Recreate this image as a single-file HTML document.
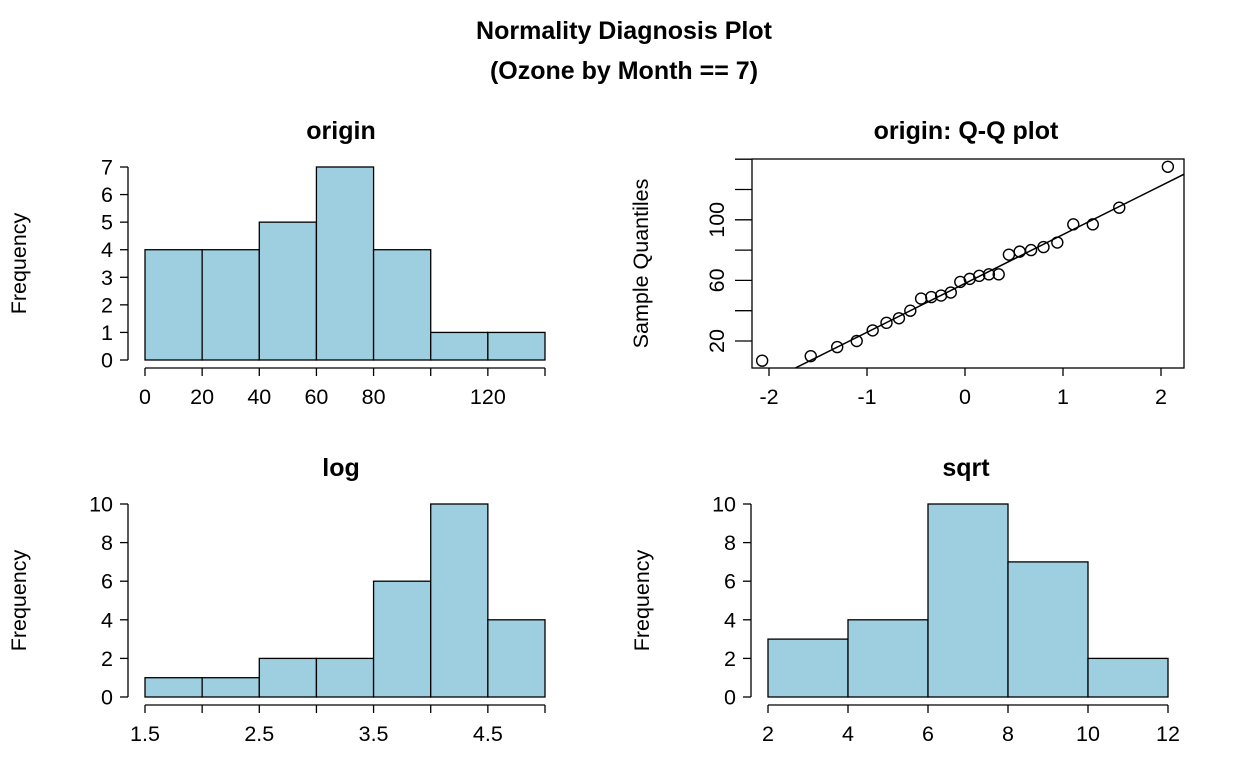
<!DOCTYPE html>
<html><head><meta charset="utf-8"><style>
body{margin:0;background:#fff;}
svg{font-family:"Liberation Sans",Arial,sans-serif;}
</style></head><body>
<svg id="s" width="1248" height="768" viewBox="0 0 1248 768">
<text x="624" y="39" font-size="25" font-weight="bold" text-anchor="middle">Normality Diagnosis Plot</text>
<text x="624" y="79" font-size="25" font-weight="bold" text-anchor="middle">(Ozone by Month == 7)</text>
</svg>
<script>
const originBreaks=[0,20,40,60,80,100,120,140];
const originCounts=[4,4,5,7,4,1,1];
const originXTicks=[0,20,40,60,80,100,120,140];
const originXLabels=["0","20","40","60","80","","120",""];
const originYTicks=[0,1,2,3,4,5,6,7];
const logBreaks=[1.5,2,2.5,3,3.5,4,4.5,5];
const logCounts=[1,1,2,2,6,10,4];
const logXLabels=["1.5","","2.5","","3.5","","4.5",""];
const sqrtBreaks=[2,4,6,8,10,12];
const sqrtCounts=[3,4,10,7,2];
const yTicks10=[0,2,4,6,8,10];
const qqTheo=[-2.070,-1.574,-1.304,-1.105,-0.942,-0.801,-0.674,-0.558,-0.448,-0.344,-0.244,-0.145,-0.048,0.048,0.145,0.244,0.344,0.448,0.558,0.674,0.801,0.942,1.105,1.304,1.574,2.070];
const qqSample=[7,10,16,20,27,32,35,40,48,49,50,52,59,61,63,64,64,77,79,80,82,85,97,97,108,135];
const qqXTicks=[-2,-1,0,1,2];
const qqYTicks=[20,40,60,80,100,120,140];
const qqYLabels=["20","","60","","100","",""];

const FS=21.5;
const s=document.getElementById('s');
const NS="http://www.w3.org/2000/svg";
function mk(tag,at,txt){const e=document.createElementNS(NS,tag);for(const k in at)e.setAttribute(k,at[k]);if(txt!==undefined)e.textContent=txt;s.appendChild(e);return e;}
function lin(d0,d1,r0,r1){return v=>r0+(v-d0)*(r1-r0)/(d1-d0);}

function hist(name,breaks,counts,xs,ys,xTicks,xLabels,yT,title,tx,ty){
  for(let i=0;i<counts.length;i++){
    const x0=xs(breaks[i]),x1=xs(breaks[i+1]),y=ys(counts[i]),y0=ys(0);
    const r=mk('rect',{x:x0,y:y,width:x1-x0,height:y0-y,fill:'#9ecfe0',stroke:'#000','stroke-width':1.3});
    
    
  }
  const ax=xs(xTicks[0]), bx=xs(xTicks[xTicks.length-1]), ay=ys(0)+8;
  mk('line',{x1:ax,x2:bx,y1:ay,y2:ay,stroke:'#000','stroke-width':1.3});
  xTicks.forEach((t,i)=>{const x=xs(t);mk('line',{x1:x,x2:x,y1:ay,y2:ay+8,stroke:'#000','stroke-width':1.3});
    if(xLabels[i]){const e=mk('text',{x:x,y:ay+36,'font-size':FS,'text-anchor':'middle'},xLabels[i]);
      
      }});
  const lx=xs(breaks[0])-17;
  mk('line',{x1:lx,x2:lx,y1:ys(yT[0]),y2:ys(yT[yT.length-1]),stroke:'#000','stroke-width':1.3});
  yT.forEach(t=>{const y=ys(t);mk('line',{x1:lx-8,x2:lx,y1:y,y2:y,stroke:'#000','stroke-width':1.3});
    const e=mk('text',{x:lx-15,y:y+7.5,'font-size':FS,'text-anchor':'end'},String(t));
    
    });
  const cy=(ys(yT[0])+ys(yT[yT.length-1]))/2;
  const yl=mk('text',{x:0,y:0,'font-size':FS,'text-anchor':'middle',transform:`translate(${lx-102},${cy}) rotate(-90)`},'Frequency');
  
  
  const ti=mk('text',{x:tx,y:ty,'font-size':25,'font-weight':'bold','text-anchor':'middle'},title);
  
  
}

hist('origin',originBreaks,originCounts,lin(0,140,145,545),lin(0,7,360,167),originXTicks,originXLabels,originYTicks,'origin',341,139);
hist('log',logBreaks,logCounts,lin(1.5,5,145,545),lin(0,10,697,504),logBreaks,logXLabels,yTicks10,'log',341,476);
hist('sqrt',sqrtBreaks,sqrtCounts,lin(2,12,768,1168),lin(0,10,697,504),sqrtBreaks,sqrtBreaks.map(String),yTicks10,'sqrt',966,476);

const qx=lin(0,1,965,1063), qy=lin(0,20,371.3,341);
const L=752,R=1184,T=159,B=368;
const box=mk('rect',{x:L,y:T,width:R-L,height:B-T,fill:'none',stroke:'#000','stroke-width':1.3});


const q1=36.25,q3=79.75,z=0.6745,slope=(q3-q1)/(2*z),icp=q1+slope*z;
const cp=mk('clipPath',{id:'qqc'});const cr=document.createElementNS(NS,'rect');
cr.setAttribute('x',L);cr.setAttribute('y',T);cr.setAttribute('width',R-L);cr.setAttribute('height',B-T);cp.appendChild(cr);
const ql=mk('line',{x1:qx(-3),y1:qy(icp-3*slope),x2:qx(3),y2:qy(icp+3*slope),stroke:'#000','stroke-width':1.5,'clip-path':'url(#qqc)'});


qqTheo.forEach((t,i)=>{const c=mk('circle',{cx:qx(t),cy:qy(qqSample[i]),r:5.5,fill:'none',stroke:'#000','stroke-width':1.4});
  
  });
qqXTicks.forEach(t=>{const x=qx(t);mk('line',{x1:x,x2:x,y1:B,y2:B+8,stroke:'#000','stroke-width':1.3});
  const e=mk('text',{x:x,y:B+36,'font-size':FS,'text-anchor':'middle'},String(t));
  
  });
qqYTicks.forEach((t,i)=>{const y=qy(t);mk('line',{x1:L-17,x2:L,y1:y,y2:y,stroke:'#000','stroke-width':1.3});
  if(qqYLabels[i]){const e=mk('text',{x:0,y:0,'font-size':FS,'text-anchor':'middle',transform:`translate(${L-28},${y}) rotate(-90)`},qqYLabels[i]);
    
    }});
const qyl=mk('text',{x:0,y:0,'font-size':FS,'text-anchor':'middle',transform:`translate(${L-104},${(T+B)/2}) rotate(-90)`},'Sample Quantiles');


const qt=mk('text',{x:966,y:139,'font-size':25,'font-weight':'bold','text-anchor':'middle'},'origin: Q-Q plot');


</script>
</body></html>
